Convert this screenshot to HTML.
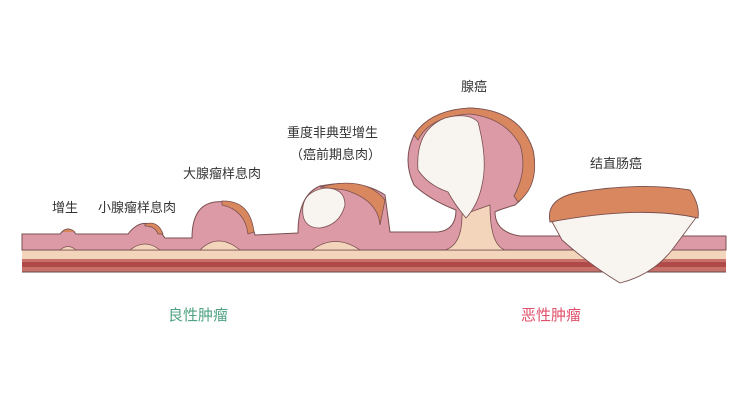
<!DOCTYPE html>
<html><head><meta charset="utf-8"><style>
html,body{margin:0;padding:0;background:#fff;}
svg{display:block}
text{font-family:"Liberation Sans","Noto Sans CJK SC",sans-serif;fill:#333;font-size:13px}
</style></head><body>
<svg width="748" height="400" viewBox="0 0 748 400" xmlns="http://www.w3.org/2000/svg">
<rect x="22" y="258" width="704" height="14" fill="#c8706a"/>
<rect x="22" y="262" width="704" height="5" fill="#b04a48"/>
<rect x="22" y="249" width="704" height="10" fill="#f3d5bb"/>
<line x1="22" y1="272" x2="726" y2="272" stroke="#6a4a4a" stroke-width="1"/>
<!-- mucosa -->
<path d="M22 234 L60 234 Q68 224 76 234 L128 234 Q140 218 155 226 Q162 234 165 238 L192 238 Q192 205 215 202 Q245 198 255 235 L298 233 Q298 195 320 186 Q360 178 385 195 L390 232 L438 232 Q456 230 456 210 Q430 200 414 185 Q402 160 414 135 Q430 110 470 108 Q520 110 533 150 Q540 185 515 205 Q498 210 495 212 Q495 232 520 236 L726 236 L726 250 L22 250 Z" fill="#dc9aa6" stroke="#7a5050" stroke-width="1"/>
<path d="M60 250 Q68 243 76 250Z M130 250 Q145 238 160 250Z M200 250 Q218 232 240 250Z M312 250 Q335 233 360 250Z" fill="#f3d5bb" stroke="#7a5050" stroke-width="0.8"/>
<path d="M445 250 Q462 245 462 215 L490 205 Q490 245 505 250Z" fill="#f3d5bb" stroke="#7a5050" stroke-width="0.8"/>
<path d="M62 232 Q68 226 75 232" fill="#d8875e" stroke="#7a5050" stroke-width="0.8"/>
<path d="M145 224 Q158 220 163 234 L158 234 Q155 226 145 226Z" fill="#d8875e" stroke="#7a5050" stroke-width="0.8"/>
<path d="M222 201 Q250 200 254 232 L248 234 Q245 210 222 205Z" fill="#d8875e" stroke="#7a5050" stroke-width="0.8"/>
<path d="M320 187 Q365 175 385 200 L380 225 Q378 200 345 190 Z" fill="#d8875e" stroke="#7a5050" stroke-width="0.8"/>
<path d="M303 215 Q300 192 325 188 Q345 188 345 205 Q340 225 320 228 Q305 228 303 215Z" fill="#f8f5f0" stroke="#7a5050" stroke-width="0.8"/>
<!-- adenocarcinoma head crust -->
<path d="M414 135 Q430 110 470 108 Q520 110 533 150 Q540 185 518 202 L514 196 Q528 170 520 145 Q505 118 470 114 Q430 116 418 140Z" fill="#d8875e" stroke="#7a5050" stroke-width="0.8"/>
<path d="M418 170 Q415 130 445 118 Q468 112 478 122 Q488 160 482 185 Q478 205 466 218 Q455 205 448 192 Q428 185 418 170Z" fill="#f8f5f0" stroke="#7a5050" stroke-width="0.8"/>
<!-- colorectal cancer -->
<path d="M550 218 L562 240 Q590 265 620 283 Q652 275 672 250 L698 215 Q640 205 550 218Z" fill="#f8f5f0" stroke="#7a5050" stroke-width="0.9"/>
<path d="M550 222 Q545 198 580 192 Q640 182 690 190 Q700 205 698 218 Q640 205 550 222Z" fill="#d8875e" stroke="#7a5050" stroke-width="0.9"/>
<text x="52" y="212">增生</text>
<text x="98" y="212">小腺瘤样息肉</text>
<text x="183" y="178">大腺瘤样息肉</text>
<text x="287" y="137">重度非典型增生</text>
<text x="290" y="159">（癌前期息肉）</text>
<text x="461" y="91">腺癌</text>
<text x="590" y="168">结直肠癌</text>
<text x="168" y="320" style="fill:#4fa382;font-size:15px">良性肿瘤</text>
<text x="521" y="320" style="fill:#e0506a;font-size:15px">恶性肿瘤</text>
</svg>
</body></html>
